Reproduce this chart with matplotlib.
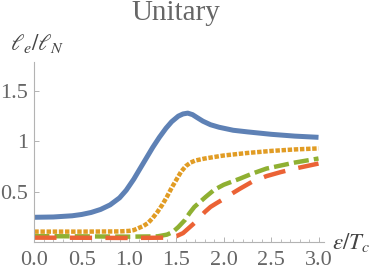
import matplotlib
matplotlib.use("Agg")
import matplotlib.pyplot as plt
from matplotlib.ticker import MultipleLocator, FixedLocator

# ---- data ----
blue_x = [0.0, 0.2, 0.4, 0.5, 0.6, 0.7, 0.8, 0.9, 0.97, 1.05, 1.11, 1.18, 1.25, 1.32, 1.39, 1.45,
          1.52, 1.57, 1.62, 1.67, 1.72, 1.78, 1.86, 1.95, 2.1, 2.25, 2.5, 2.75, 3.0]
blue_y = [0.247, 0.25, 0.262, 0.275, 0.295, 0.325, 0.37, 0.44, 0.515, 0.625, 0.72, 0.83, 0.94, 1.04, 1.13, 1.195,
          1.25, 1.272, 1.28, 1.265, 1.235, 1.2, 1.165, 1.14, 1.11, 1.094, 1.07, 1.052, 1.04]

orange_x = [0.0, 0.5, 0.9, 1.0, 1.05, 1.1, 1.15, 1.2, 1.25, 1.3, 1.35, 1.4, 1.45, 1.5, 1.55, 1.6,
            1.65, 1.7, 1.8, 2.0, 2.25, 2.5, 2.75, 3.0]
orange_y = [0.105, 0.105, 0.107, 0.112, 0.12, 0.14, 0.16, 0.19, 0.24, 0.3, 0.37, 0.45, 0.54, 0.62, 0.7, 0.755,
            0.79, 0.81, 0.83, 0.86, 0.885, 0.905, 0.92, 0.93]

green_x = [0.0, 0.5, 1.0, 1.3, 1.4, 1.46, 1.52, 1.59, 1.64, 1.69, 1.75, 1.81, 1.9, 2.0, 2.17, 2.3, 2.45,
           2.6, 2.75, 3.0]
green_y = [0.06, 0.058, 0.055, 0.058, 0.075, 0.1, 0.15, 0.22, 0.29, 0.35, 0.4, 0.45, 0.52, 0.57, 0.63, 0.68, 0.73,
           0.76, 0.79, 0.83]

red_x = [0.0, 0.5, 1.0, 1.4, 1.5, 1.57, 1.63, 1.69, 1.75, 1.8, 1.86, 1.92, 2.0, 2.1, 2.17, 2.3, 2.45, 2.6,
         2.75, 3.0]
red_y = [0.045, 0.044, 0.042, 0.045, 0.06, 0.09, 0.14, 0.19, 0.25, 0.3, 0.35, 0.385, 0.43, 0.49, 0.53, 0.6, 0.655,
         0.695, 0.73, 0.78]

x_ticks = [0.0, 0.5, 1.0, 1.5, 2.0, 2.5, 3.0]
x_tick_labels = ["0.0", "0.5", "1.0", "1.5", "2.0", "2.5", "3.0"]
y_ticks = [0.5, 1.0, 1.5]
y_tick_labels = ["0.5", "1", "1.5"]

# ---- styling ----
plt.rcParams['font.family'] = ['Liberation Serif', 'DejaVu Serif']
plt.rcParams['mathtext.fontset'] = 'stix'

W, H = 374, 273
fig = plt.figure(figsize=(W / 100, H / 100), dpi=100)
ax = fig.add_axes([34.3 / W, (H - 242.2) / H, (324.2 - 34.3) / W, (242.2 - 61.7) / H])

lw = 3.2
ax.plot(blue_x, blue_y, color='#5E81B5', lw=3.6, solid_capstyle='butt', solid_joinstyle='round')
ax.plot(orange_x, orange_y, color='#E19C24', lw=lw, dashes=(1.0, 0.38), dash_capstyle='butt')
ax.plot(green_x, green_y, color='#8FB032', lw=lw, dashes=(3.4, 1.15), dash_capstyle='butt')
ax.plot(red_x, red_y, color='#EB6235', lw=lw, dashes=(5.0, 3.0), dash_capstyle='butt')

ax.set_xlim(0, 3.06)
ax.set_ylim(0, 1.79)

for s in ['top', 'right']:
    ax.spines[s].set_visible(False)
for s in ['left', 'bottom']:
    ax.spines[s].set_color('#b3b3b3')
    ax.spines[s].set_linewidth(0.8)

ax.xaxis.set_major_locator(FixedLocator(x_ticks))
ax.set_xticklabels(x_tick_labels)
ax.xaxis.set_minor_locator(MultipleLocator(0.1))
ax.yaxis.set_major_locator(FixedLocator(y_ticks))
ax.set_yticklabels(y_tick_labels)

ax.tick_params(axis='both', which='major', direction='in', length=3.5, width=0.7,
               color='#b3b3b3', labelsize=16, labelcolor='#666666')
ax.tick_params(axis='x', which='major', pad=6.5)
ax.tick_params(axis='y', which='major', pad=4.5)
ax.tick_params(axis='x', which='minor', direction='in', length=2, width=0.6, color='#b3b3b3')

fig.text(176 / W, 1 - 20 / H, 'Unitary', ha='center', va='baseline', fontsize=21, color='#666666')
fig.text(10 / W, 1 - 50 / H, r'$\ell_e/\ell_N$', ha='left', va='baseline', fontsize=16.5, color='#444444')
fig.text(332 / W, 1 - 249 / H, r'$\epsilon/T_c$', ha='left', va='baseline', fontsize=16.5, color='#444444')

fig.savefig('out.png', dpi=100)
